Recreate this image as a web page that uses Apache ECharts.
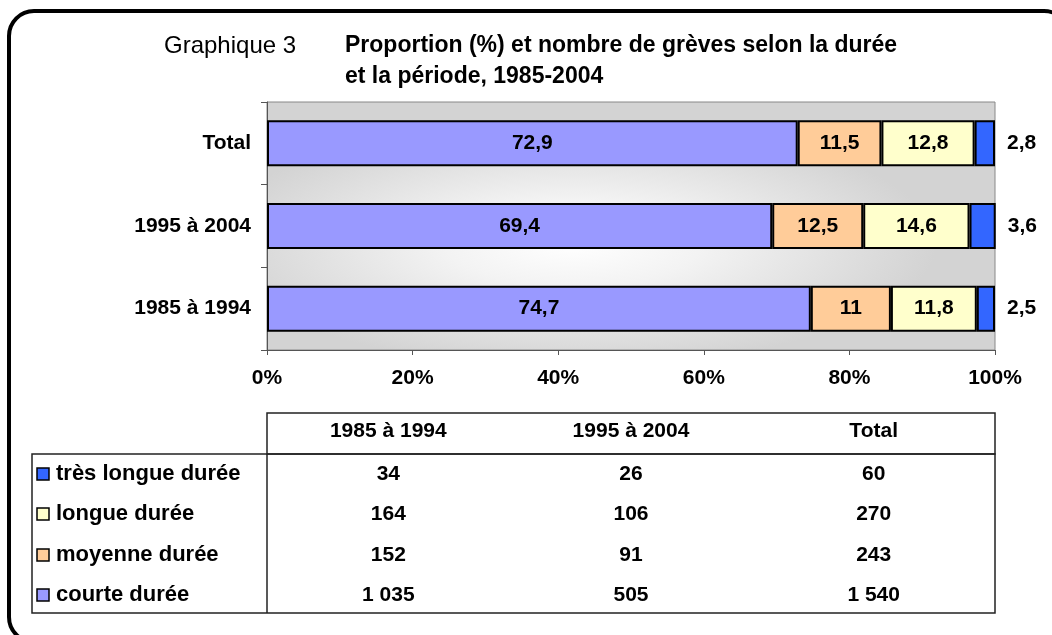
<!DOCTYPE html>
<html>
<head>
<meta charset="utf-8">
<script src="https://cdn.jsdelivr.net/npm/echarts@6/dist/echarts.min.js"></script>
<style>
  html, body { margin: 0; padding: 0; background: #fff; }
  #chart { width: 1052px; height: 635px; }
</style>
</head>
<body>
<div id="chart"></div>
<script>
// périodes (axe des catégories, de bas en haut)
const periods = ['1985 à 1994', '1995 à 2004', 'Total'];

// proportions (%) par durée
const courte = [74.7, 69.4, 72.9];
const moyenne = [11, 12.5, 11.5];
const longue = [11.8, 14.6, 12.8];
const tresLongue = [2.5, 3.6, 2.8];

// nombre de grèves par durée
const tresLongueCount = [34, 26, 60];
const longueCount = [164, 106, 270];
const moyenneCount = [152, 91, 243];
const courteCount = [1035, 505, 1540];

const xTicks = [0, 20, 40, 60, 80, 100];

const FONT = '"Liberation Sans", Arial, sans-serif';
const colors = {
  courte: '#9999ff',
  moyenne: '#ffcc99',
  longue: '#ffffcc',
  tresLongue: '#3366ff'
};

const fmtDec = v => String(v).replace('.', ',');
const fmtInt = v => String(v).replace(/\B(?=(\d{3})+(?!\d))/g, ' ');

const chart = echarts.init(document.getElementById('chart'));

const grid = { left: 267, top: 102, width: 728, height: 248 };

const makeSeries = (name, data, color, outside) => ({
  name,
  type: 'bar',
  stack: 'total',
  data,
  barWidth: 46,
  itemStyle: { color, borderColor: '#000', borderWidth: 2 },
  label: {
    show: true,
    position: outside ? 'right' : 'inside',
    distance: 12,
    color: '#000',
    fontFamily: FONT,
    fontWeight: 'bold',
    fontSize: 21,
    formatter: p => fmtDec(p.value)
  },
  z: 3
});

// tableau sous le graphique
const tableRows = [
  { label: 'très longue durée', color: colors.tresLongue, values: tresLongueCount },
  { label: 'longue durée', color: colors.longue, values: longueCount },
  { label: 'moyenne durée', color: colors.moyenne, values: moyenneCount },
  { label: 'courte durée', color: colors.courte, values: courteCount }
];
const rowY = [474, 514, 555, 595];
const colX = periods.map((_, i) => grid.left + grid.width / 6 * (2 * i + 1));

const txt = (text, x, y, opts = {}) => ({
  type: 'text',
  x, y,
  z: 20,
  style: {
    text,
    font: (opts.weight || 'bold') + ' ' + (opts.size || 21) + 'px ' + FONT,
    fill: '#000',
    textAlign: opts.align || 'center',
    align: opts.align || 'center',
    textVerticalAlign: 'middle',
    verticalAlign: 'middle'
  }
});

const graphics = [
  // cadre arrondi
  {
    type: 'rect', z: 20,
    shape: { x: 9, y: 11, width: 1060, height: 631, r: 25 },
    style: { fill: 'none', stroke: '#000', lineWidth: 4 }
  },
  // fond dégradé de la zone de tracé
  {
    type: 'rect', z: -10,
    x: grid.left, y: grid.top,
    scaleX: grid.width / grid.height,
    shape: { x: 0, y: 0, width: grid.height, height: grid.height },
    style: {
      fill: new echarts.graphic.RadialGradient(0.42, 0.57, 0.5, [
        { offset: 0, color: '#ffffff' },
        { offset: 0.35, color: '#f3f3f3' },
        { offset: 1, color: '#d3d3d3' }
      ])
    }
  },
  // titre
  txt('Graphique 3', 164, 46, { weight: 'normal', size: 24, align: 'left' }),
  txt('Proportion (%) et nombre de grèves selon la durée', 345, 46, { size: 23, align: 'left' }),
  txt('et la période, 1985-2004', 345, 77, { size: 23, align: 'left' }),
  // cadres du tableau
  {
    type: 'rect', z: 20,
    shape: { x: 267, y: 413, width: 728, height: 41 },
    style: { fill: 'none', stroke: '#222', lineWidth: 1.5 }
  },
  {
    type: 'rect', z: 20,
    shape: { x: 32, y: 454, width: 963, height: 159 },
    style: { fill: 'none', stroke: '#222', lineWidth: 1.5 }
  },
  {
    type: 'line', z: 20,
    shape: { x1: 267, y1: 454, x2: 267, y2: 613 },
    style: { stroke: '#222', lineWidth: 1.5 }
  }
];

periods.forEach((p, i) => graphics.push(txt(p, colX[i], 431)));

tableRows.forEach((row, r) => {
  graphics.push({
    type: 'rect', z: 20,
    shape: { x: 37, y: rowY[r] - 6, width: 12, height: 12 },
    style: { fill: row.color, stroke: '#000', lineWidth: 1.5 }
  });
  graphics.push(txt(row.label, 56, rowY[r], { size: 22, align: 'left' }));
  row.values.forEach((v, i) => graphics.push(txt(fmtInt(v), colX[i], rowY[r])));
});

const option = {
  animation: false,
  backgroundColor: '#fff',
  grid: {
    ...grid,
    show: true,
    backgroundColor: 'transparent',
    borderColor: '#888',
    borderWidth: 1
  },
  xAxis: {
    type: 'value',
    min: xTicks[0],
    max: xTicks[xTicks.length - 1],
    interval: xTicks[1] - xTicks[0],
    axisLine: { show: true, lineStyle: { color: '#555' } },
    axisTick: { show: true, length: 5, lineStyle: { color: '#555' } },
    splitLine: { show: false },
    axisLabel: {
      formatter: '{value}%',
      color: '#000',
      fontFamily: FONT,
      fontWeight: 'bold',
      fontSize: 21,
      margin: 18
    }
  },
  yAxis: {
    type: 'category',
    data: periods,
    axisLine: { show: true, lineStyle: { color: '#555' } },
    axisTick: { show: true, length: 6, alignWithLabel: false, lineStyle: { color: '#555' } },
    axisLabel: {
      color: '#000',
      fontFamily: FONT,
      fontWeight: 'bold',
      fontSize: 21,
      margin: 16
    }
  },
  series: [
    makeSeries('courte durée', courte, colors.courte),
    makeSeries('moyenne durée', moyenne, colors.moyenne),
    makeSeries('longue durée', longue, colors.longue),
    makeSeries('très longue durée', tresLongue, colors.tresLongue, true)
  ],
  graphic: graphics
};

chart.setOption(option);
</script>
</body>
</html>
